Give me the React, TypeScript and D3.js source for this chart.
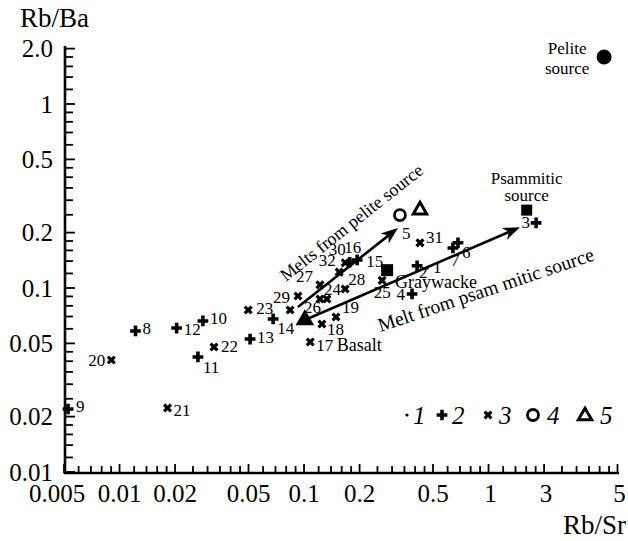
import React from "react";
import * as d3 from "d3";

// ---------- data ----------
const xTickValues = [0.005, 0.01, 0.02, 0.05, 0.1, 0.2, 0.5, 1, 2, 5];
const xTickLabels = ["0.005", "0.01", "0.02", "0.05", "0.1", "0.2", "0.5", "1", "3", "5"];
const yTickValues = [0.01, 0.02, 0.05, 0.1, 0.2, 0.5, 1, 2];
const yTickLabels = ["0.01", "0.02", "0.05", "0.1", "0.2", "0.5", "1", "2.0"];
const minorMantissas = [1, 1.2, 1.4, 1.6, 1.8, 2, 2.5, 3, 3.5, 4, 4.5, 5, 6, 7, 8, 9];

// samples: label, legend type (1 dot, 2 plus, 3 cross), Rb/Sr, Rb/Ba
const sampleLabels = ["1", "2", "3", "4", "6", "7", "8", "9", "10", "11", "12", "13", "14", "15", "16", "17", "18", "19", "20", "21", "22", "23", "24", "", "25", "26", "27", "28", "29", "30", "31", "32"];
const sampleTypes = [1, 2, 2, 2, 2, 2, 2, 2, 2, 2, 2, 2, 2, 2, 2, 3, 3, 3, 3, 3, 3, 3, 3, 3, 3, 3, 3, 3, 3, 3, 3, 3];
const sampleRbSr = [0.464, 0.41, 1.81, 0.385, 0.683, 0.641, 0.0122, 0.00526, 0.0283, 0.0266, 0.0204, 0.051, 0.068, 0.194, 0.177, 0.108, 0.125, 0.149, 0.00902, 0.0182, 0.0325, 0.0498, 0.133, 0.122, 0.265, 0.084, 0.122, 0.167, 0.0927, 0.167, 0.425, 0.155];
const sampleRbBa = [0.128, 0.132, 0.226, 0.0928, 0.176, 0.165, 0.0584, 0.022, 0.0662, 0.0422, 0.0606, 0.0528, 0.0679, 0.142, 0.138, 0.0509, 0.0637, 0.0696, 0.0406, 0.0223, 0.0478, 0.0759, 0.0871, 0.0871, 0.11, 0.0759, 0.104, 0.0988, 0.0905, 0.137, 0.176, 0.122];

// reference end-members
const pelite = { rbSr: 4.23, rbBa: 1.8 };
const psammitic = { rbSr: 1.61, rbBa: 0.265 };
const graywacke = { rbSr: 0.282, rbBa: 0.125 };
const basalt = { rbSr: 0.101, rbBa: 0.067 };
const meltCircle = { rbSr: 0.331, rbBa: 0.249 };
const meltTriangle = { rbSr: 0.425, rbBa: 0.265 };

// melt trend arrows [from, to]
const pelitePath = [[0.0927, 0.0788], [0.323, 0.212]];
const psammiticPath = [[0.101, 0.067], [1.48, 0.214]];

// label placement (layout only): dx, dy, anchor
const labelPlace: Record<string, [number, number, string]> = {
  "1": [6, -1, "start"], "2": [2, 7, "start"], "3": [-6, 0, "end"], "4": [-7, 1, "end"],
  "6": [4, 10, "start"], "7": [2, 13, "middle"], "8": [7, -2, "start"], "9": [8, -2, "start"],
  "10": [7, -2, "start"], "11": [5, 11, "start"], "12": [7, 1, "start"], "13": [7, -2, "start"],
  "14": [4, 10, "start"], "15": [9, 2, "start"], "16": [3, -15, "middle"], "17": [6, 4, "start"],
  "18": [5, 5, "start"], "19": [6, -9, "start"], "20": [-6, 0, "end"], "21": [6, 3, "start"],
  "22": [7, 0, "start"], "23": [8, -2, "start"], "24": [-3, -10, "start"], "25": [0, 12, "middle"],
  "26": [14, -3, "start"], "27": [-7, -8, "end"], "28": [3, -9, "start"], "29": [-8, 2, "end"],
  "30": [-8, -13, "middle"], "31": [6, -5, "start"], "32": [-12, -12, "middle"],
};

const W = 628, H = 541;
const FONT = "'Liberation Serif', 'Times New Roman', serif";

const x = d3.scaleLog().domain([0.005, 5]).range([64, 617.5]);
const y = d3.scaleLog().domain([0.01, 2]).range([472, 48.6]);

function minorTicks(lo: number, hi: number) {
  const out: number[] = [];
  for (let e = -3; e <= 1; e++) {
    for (const m of minorMantissas) {
      const v = +(m * Math.pow(10, e)).toPrecision(6);
      if (v >= lo * 0.9999 && v <= hi * 1.0001) out.push(v);
    }
  }
  return out;
}

const plusPath = d3.symbol().type(d3.symbolCross).size(64)()!;
const crossPath = d3.symbol().type(d3.symbolCross).size(52)()!;
const openTriPath = d3.symbol().type(d3.symbolTriangle).size(78)()!;

function Marker({ type, cx, cy }: { type: number; cx: number; cy: number }) {
  if (type === 1) return <circle cx={cx} cy={cy} r={1.6} fill="#000" />;
  if (type === 2) return <path d={plusPath} transform={`translate(${cx},${cy})`} fill="#000" />;
  return <path d={crossPath} transform={`translate(${cx},${cy}) rotate(45)`} fill="#000" />;
}

function Arrow({ path }: { path: number[][] }) {
  const x1 = x(path[0][0]), y1 = y(path[0][1]);
  const x2 = x(path[1][0]), y2 = y(path[1][1]);
  const ang = Math.atan2(y2 - y1, x2 - x1);
  const L = 17, hw = 6.5, notch = 12;
  const ca = Math.cos(ang), sa = Math.sin(ang);
  const bx = x2 - L * ca, by = y2 - L * sa;
  const nx = x2 - notch * ca, ny = y2 - notch * sa;
  const p1 = [bx - hw * sa, by + hw * ca];
  const p2 = [bx + hw * sa, by - hw * ca];
  return (
    <g>
      <line x1={x1} y1={y1} x2={nx} y2={ny} stroke="#000" strokeWidth={2.6} />
      <path d={`M${x2},${y2}L${p1[0]},${p1[1]}L${nx},${ny}L${p2[0]},${p2[1]}Z`} fill="#000" />
    </g>
  );
}

function AlongText({ path, text, frac, off, angleDeg, size }: { path: number[][]; text: string; frac: number; off: number; angleDeg?: number; size: number }) {
  const x1 = x(path[0][0]), y1 = y(path[0][1]);
  const x2 = x(path[1][0]), y2 = y(path[1][1]);
  const ang = Math.atan2(y2 - y1, x2 - x1);
  const px = x1 + (x2 - x1) * frac, py = y1 + (y2 - y1) * frac;
  const cx = px + off * Math.sin(ang), cy = py - off * Math.cos(ang);
  const deg = angleDeg !== undefined ? angleDeg : (ang * 180) / Math.PI;
  return (
    <text x={cx} y={cy} transform={`rotate(${deg},${cx},${cy})`} textAnchor="middle" dominantBaseline="central" fontSize={size}>
      {text}
    </text>
  );
}

export default function App() {
  const xMinor = minorTicks(0.005, 5);
  const yMinor = minorTicks(0.01, 2);
  const legendY = 415;
  return (
    <svg width={W} height={H} style={{ position: "fixed", left: 0, top: 0, background: "#fff" }} fontFamily={FONT}>
      {/* axes */}
      <line x1={64} y1={473} x2={619} y2={473} stroke="#000" strokeWidth={2.6} />
      <line x1={65} y1={474} x2={65} y2={46} stroke="#000" strokeWidth={2.6} />
      {xMinor.map((v, i) => (
        <line key={"xm" + i} x1={x(v)} x2={x(v)} y1={473} y2={xTickValues.includes(v) ? 464 : 466} stroke="#000" strokeWidth={1.8} />
      ))}
      {yMinor.map((v, i) => (
        <line key={"ym" + i} x1={65} x2={yTickValues.includes(v) ? 75 : 73} y1={y(v)} y2={y(v)} stroke="#000" strokeWidth={1.8} />
      ))}
      {xTickValues.map((v, i) => (
        <text key={"xl" + i} x={i === 0 ? x(v) - 7 : x(v) + (v >= 1 ? 2 : 0)} y={502} textAnchor="middle" fontSize={25}>
          {xTickLabels[i]}
        </text>
      ))}
      {yTickValues.map((v, i) => (
        <text key={"yl" + i} x={53} y={y(v)} dy="0.35em" textAnchor="end" fontSize={25}>
          {yTickLabels[i]}
        </text>
      ))}
      <text x={20} y={27} fontSize={27}>Rb/Ba</text>
      <text x={626} y={534} fontSize={27} textAnchor="end">Rb/Sr</text>

      {/* trend arrows */}
      <Arrow path={pelitePath} />
      <Arrow path={psammiticPath} />
      <AlongText path={pelitePath} text="Melts from pelite source" frac={0.74} off={33} size={18} />
      <AlongText path={psammiticPath} text="Melt from psam mitic source" frac={0.76} off={-44} angleDeg={-18.5} size={19.5} />

      {/* samples */}
      {sampleLabels.map((lab, i) => {
        const cx = x(sampleRbSr[i]), cy = y(sampleRbBa[i]);
        const pl = labelPlace[lab];
        return (
          <g key={"s" + i}>
            <Marker type={sampleTypes[i]} cx={cx} cy={cy} />
            {lab && pl && (
              <text x={cx + pl[0]} y={cy + pl[1]} dominantBaseline="central" textAnchor={pl[2] as any} fontSize={17}>
                {lab}
              </text>
            )}
          </g>
        );
      })}
      <text x={x(pelitePath[1][0]) + 4} y={y(pelitePath[1][1]) + 6} dominantBaseline="central" fontSize={17}>5</text>

      {/* end-members */}
      <circle cx={x(pelite.rbSr)} cy={y(pelite.rbBa)} r={7.5} fill="#000" />
      <text x={x(pelite.rbSr) - 37} y={y(pelite.rbBa) - 9} textAnchor="middle" dominantBaseline="central" fontSize={17}>Pelite</text>
      <text x={x(pelite.rbSr) - 37} y={y(pelite.rbBa) + 11} textAnchor="middle" dominantBaseline="central" fontSize={17}>source</text>

      <rect x={x(psammitic.rbSr) - 5.5} y={y(psammitic.rbBa) - 5.5} width={11} height={11} fill="#000" />
      <text x={x(psammitic.rbSr)} y={y(psammitic.rbBa) - 32} textAnchor="middle" dominantBaseline="central" fontSize={17}>Psammitic</text>
      <text x={x(psammitic.rbSr)} y={y(psammitic.rbBa) - 15} textAnchor="middle" dominantBaseline="central" fontSize={17}>source</text>

      <rect x={x(graywacke.rbSr) - 6} y={y(graywacke.rbBa) - 6} width={12} height={12} fill="#000" />
      <text x={x(graywacke.rbSr) + 8} y={y(graywacke.rbBa) + 12} dominantBaseline="central" fontSize={18}>Graywacke</text>

      <path d={d3.symbol().type(d3.symbolTriangle).size(150)()!} transform={`translate(${x(basalt.rbSr)},${y(basalt.rbBa)})`} fill="#000" />
      <text x={x(basalt.rbSr) + 32} y={y(basalt.rbBa) + 25} dominantBaseline="central" fontSize={18}>Basalt</text>

      <circle cx={x(meltCircle.rbSr)} cy={y(meltCircle.rbBa)} r={5.5} fill="none" stroke="#000" strokeWidth={2.8} />
      <path d={openTriPath} transform={`translate(${x(meltTriangle.rbSr)},${y(meltTriangle.rbBa)})`} fill="none" stroke="#000" strokeWidth={3} />

      {/* legend */}
      <g fontSize={25} fontStyle="italic">
        <circle cx={407} cy={legendY} r={1.6} fill="#000" />
        <text x={413} y={legendY} dy="0.35em">1</text>
        <path d={plusPath} transform={`translate(442,${legendY})`} fill="#000" />
        <text x={452} y={legendY} dy="0.35em">2</text>
        <path d={crossPath} transform={`translate(488,${legendY}) rotate(45)`} fill="#000" />
        <text x={499} y={legendY} dy="0.35em">3</text>
        <circle cx={533} cy={legendY} r={5.5} fill="none" stroke="#000" strokeWidth={2.8} />
        <text x={547} y={legendY} dy="0.35em">4</text>
        <path d={openTriPath} transform={`translate(585,${legendY + 1})`} fill="none" stroke="#000" strokeWidth={3} />
        <text x={600} y={legendY} dy="0.35em">5</text>
      </g>
    </svg>
  );
}
